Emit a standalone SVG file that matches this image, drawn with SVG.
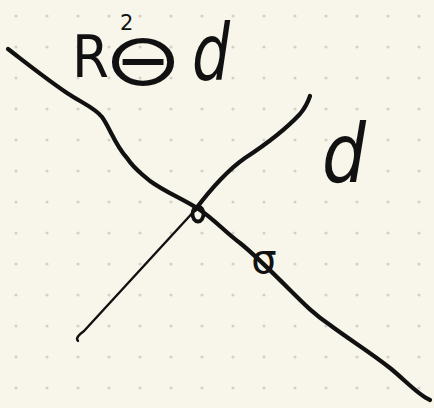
<svg xmlns="http://www.w3.org/2000/svg" width="434" height="408" viewBox="0 0 434 408">
<defs>
<pattern id="dots" x="0" y="0" width="31" height="31" patternUnits="userSpaceOnUse">
<circle cx="16" cy="16" r="1.6" fill="#d4d2c8"/>
</pattern>
<style>
.ink{fill:none;stroke:#111;stroke-linecap:round;stroke-linejoin:round}
.hand{fill:#111;font-family:"DejaVu Sans","Liberation Sans",sans-serif}
</style>
</defs>
<rect width="434" height="408" fill="#f8f6ea"/>
<rect width="434" height="408" fill="url(#dots)"/>
<g id="connectors">
<path class="ink" stroke-width="4.2" d="M8,49 C25,62 45,78 67,93 C82,103 95,108 102,117 C110,128 115,145 127,158 C135,170 140,172 150,181 C165,192 185,200 200,210 C215,220 225,232 240,243 C255,255 270,270 290,290 C305,305 315,315 330,325 C350,340 370,352 390,368 C405,380 418,395 430,400"/>
<path class="ink" stroke-width="2.4" d="M78,341 C75,338 80,334 84,331 L197,208"/>
<path class="ink" stroke-width="4.2" d="M195,210 C210,190 225,172 245,158 C265,145 285,130 300,114 C305,108 308,102 310,96"/>
</g>
<g id="point">
<ellipse class="ink" stroke-width="3.8" cx="198" cy="214" rx="5.5" ry="7.5"/>
</g>
<g id="sigma">
<text class="hand" x="264" y="273" font-size="40" text-anchor="middle">σ</text>
</g>
<g id="label-top">
<text class="hand" x="72" y="77" font-size="58" textLength="37" lengthAdjust="spacingAndGlyphs">R</text>
<text class="hand" x="120" y="30" font-size="21">2</text>
<text class="hand" x="143" y="100" font-size="95" text-anchor="middle" transform="translate(0,8.4) scale(1,0.77)">⊖</text>
<text class="hand" x="192" y="80" font-size="78" font-style="italic" textLength="38" lengthAdjust="spacingAndGlyphs">d</text>
</g>
<g id="label-right">
<text class="hand" x="322" y="182" font-size="82" font-style="italic" textLength="44" lengthAdjust="spacingAndGlyphs">d</text>
</g>
</svg>
